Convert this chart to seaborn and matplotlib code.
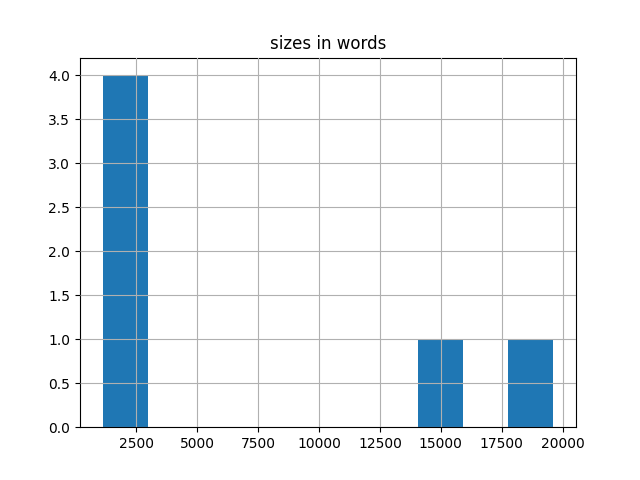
import matplotlib
matplotlib.use("Agg")
import matplotlib.pyplot as plt
import seaborn as sns
import pandas as pd

sizes_in_words = [1120, 1450, 2100, 2850, 15000, 19620]
title = "sizes in words"

df = pd.DataFrame({"sizes in words": sizes_in_words})

fig, ax = plt.subplots(figsize=(6.4, 4.8), dpi=100)
sns.histplot(data=df, x="sizes in words", bins=10, ax=ax,
             color="#1f77b4", alpha=1.0, edgecolor="none", linewidth=0)
ax.grid(True)
ax.set_axisbelow(False)
for line in ax.get_xgridlines() + ax.get_ygridlines():
    line.set_zorder(1.5)
ax.set_title(title)
ax.set_xlabel("")
ax.set_ylabel("")
fig.savefig("out.png", dpi=100)
